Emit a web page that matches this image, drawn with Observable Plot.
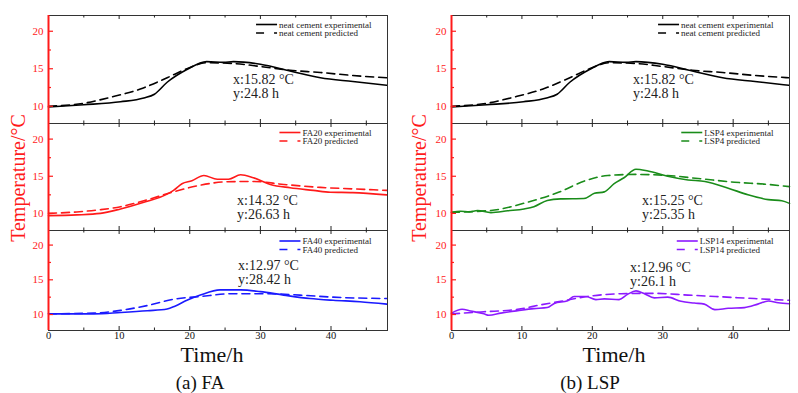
<!DOCTYPE html>
<html>
<head>
<meta charset="utf-8">
<script src="https://cdn.jsdelivr.net/npm/d3@7"></script>
<script src="https://cdn.jsdelivr.net/npm/@observablehq/plot@0.6"></script>
<style>
  html, body { margin: 0; padding: 0; background: #fff; }
  #chart { position: relative; width: 798px; height: 393px; overflow: hidden; background: #fff; font-family: "Liberation Serif", "DejaVu Serif", serif; }
  #chart .cell { position: absolute; }
  #overlay { position: absolute; left: 0; top: 0; pointer-events: none; }
</style>
</head>
<body>
<div id="chart"></div>
<script>
// ---------------- data (time h, temperature °C) ----------------
const xTicks = [0, 10, 20, 30, 40];
const xMinorTicks = [5, 15, 25, 35, 45];
const yTicks = [10, 15, 20];
const yMinorTicks = [12.5, 17.5];

const neatExp = [[0,9.9],[5,10.2],[10.2,10.6],[13.5,11.1],[15.0,11.6],[16.8,13.2],[19.6,14.9],[22.4,15.95],[24.8,15.85],[26.2,15.95],[30,15.6],[34.2,14.7],[38.5,13.8],[43.1,13.3],[47.9,12.8]];
const neatPred = [[0,10.0],[5,10.4],[8.8,11.2],[13,12.3],[16.8,13.8],[19.6,15.0],[22.4,15.8],[26.2,15.7],[30,15.3],[34.2,14.8],[38.5,14.5],[43.1,14.1],[47.9,13.8]];

const fa20Exp = [[0,9.7],[4,9.8],[7.35,10.0],[10.2,10.6],[13.5,11.5],[16.8,12.6],[17.7,13.1],[18.9,14.0],[20.3,14.4],[22.0,15.1],[23.9,14.6],[25.5,14.6],[27.2,15.2],[29.0,14.8],[31.4,13.9],[34.2,13.45],[37.5,13.1],[39.9,12.85],[43.1,12.8],[47.9,12.5]];
const fa20Pred = [[0,10.0],[4,10.2],[7.35,10.5],[10.2,10.9],[13.5,11.7],[17.7,12.9],[21.5,13.8],[25.2,14.25],[29,14.3],[33.3,13.9],[38.5,13.5],[43.1,13.3],[47.9,13.1]];

const fa40Exp = [[0,10.1],[6.4,10.1],[10.2,10.3],[14,10.55],[16.8,10.8],[17.9,11.2],[19.6,12.05],[21.5,12.8],[24.3,13.55],[27.2,13.55],[30,13.3],[33.3,12.8],[37.0,12.3],[40.3,12.05],[44.1,11.85],[47.9,11.5]];
const fa40Pred = [[0,10.1],[6.4,10.2],[10.2,10.6],[14,11.3],[17.7,12.2],[21.5,12.6],[26.2,13.0],[30.9,13.0],[35.6,12.8],[40.3,12.5],[47.9,12.3]];

const lsp4Exp = [[0,10.15],[1.3,10.3],[2.5,10.2],[3.7,10.4],[5.6,10.1],[8,10.35],[10.3,10.6],[11.7,10.9],[13.6,11.75],[15.5,11.95],[18.8,12.0],[20.3,12.7],[21.7,12.9],[23.1,14.0],[24.5,14.8],[26.2,15.95],[27.9,15.7],[30.7,15.0],[33.6,14.5],[36.0,14.3],[39.3,13.4],[42.1,12.5],[45,11.85],[46.9,11.7],[48,11.35]];
const lsp4Pred = [[0,10.15],[5.6,10.4],[10.8,11.5],[15.1,12.8],[19.3,14.5],[22.2,15.1],[26,15.25],[30.7,15.1],[35.5,14.65],[40.2,14.2],[45,13.9],[48,13.6]];

const lsp14Exp = [[0,10.2],[1.5,10.75],[2.7,10.5],[4.6,10.1],[5.3,9.9],[7.0,10.2],[9.4,10.55],[11.7,10.85],[13.6,11.0],[14.6,11.6],[16.5,12.0],[17.4,12.6],[19.1,12.6],[20.5,12.15],[21.7,12.25],[23.8,12.15],[25,12.9],[26.2,13.4],[27.4,13.0],[28.8,12.4],[30.7,12.5],[32.6,11.9],[34.5,11.65],[35.9,11.5],[37.4,10.7],[39.3,10.9],[41.6,11.0],[43.5,11.5],[45,11.95],[46.4,11.7],[48,11.55]];
const lsp14Pred = [[0,10.1],[4.6,10.4],[9.4,10.75],[12.7,11.4],[15.5,11.9],[19.3,12.6],[24.1,13.0],[28.8,13.05],[33.6,12.8],[38.3,12.55],[43,12.3],[48,12.05]];

const panelTitles = ["(a) FA", "(b) LSP"];
const axisTitleY = "Temperature/°C";
const axisTitleX = "Time/h";

const subplots = [
  {col: 0, row: 0, exp: neatExp, pred: neatPred, color: "#000000", names: ["neat cement experimental", "neat cement predicted"], note: ["x:15.82 °C", "y:24.8 h"]},
  {col: 0, row: 1, exp: fa20Exp, pred: fa20Pred, color: "#ff1a1a", names: ["FA20 experimental", "FA20 predicted"], note: ["x:14.32 °C", "y:26.63 h"]},
  {col: 0, row: 2, exp: fa40Exp, pred: fa40Pred, color: "#1a1aff", names: ["FA40 experimental", "FA40 predicted"], note: ["x:12.97 °C", "y:28.42 h"]},
  {col: 1, row: 0, exp: neatExp, pred: neatPred, color: "#000000", names: ["neat cement experimental", "neat cement predicted"], note: ["x:15.82 °C", "y:24.8 h"]},
  {col: 1, row: 1, exp: lsp4Exp, pred: lsp4Pred, color: "#1a8c1a", names: ["LSP4 experimental", "LSP4 predicted"], note: ["x:15.25 °C", "y:25.35 h"]},
  {col: 1, row: 2, exp: lsp14Exp, pred: lsp14Pred, color: "#8c1aff", names: ["LSP14 experimental", "LSP14 predicted"], note: ["x:12.96 °C", "y:26.1 h"]}
];

// ---------------- layout ----------------
const FONT = "Liberation Serif, DejaVu Serif, serif";
const colX = [[48, 387], [451, 789]];
const rowY = [[15, 123], [123, 230], [230, 330]];
const notePos = [
  [[233, 84], [237, 205], [238, 270]],
  [[633, 84], [642, 205], [630, 272]]
];
const Y0 = 7.7, Y1 = 22.1;
const ML = 40, MR = 8, MT = 6;

const chart = document.getElementById("chart");

subplots.forEach(s => {
  const [fx0, fx1] = colX[s.col];
  const [fy0, fy1] = rowY[s.row];
  const fw = fx1 - fx0, fh = fy1 - fy0;
  const bottom = s.row === 2;
  const MB = bottom ? 22 : 6;
  const tickLenY = 5 * 48 / fw;
  const px = (Y1 - Y0) / fh;
  const tx = d => d;
  const plot = Plot.plot({
    width: ML + fw + MR,
    height: MT + fh + MB,
    marginLeft: ML, marginRight: MR, marginTop: MT, marginBottom: MB,
    x: {domain: [0, 48], axis: null},
    y: {domain: [Y0, Y1], axis: null},
    style: {fontFamily: FONT, background: "transparent", overflow: "visible"},
    marks: [
      Plot.line(s.pred, {x: d => d[0], y: d => d[1], stroke: s.color, strokeWidth: 1.6, strokeDasharray: "8,5", curve: "monotone-x"}),
      Plot.line(s.exp, {x: d => d[0], y: d => d[1], stroke: s.color, strokeWidth: 1.6, curve: "monotone-x"}),
      Plot.frame({stroke: "#333", strokeWidth: 1}),
      // x ticks (inward, bottom and top)
      Plot.ruleX(xTicks, {x: tx, y1: () => Y0, y2: () => Y0 + 4 * px, stroke: "#222"}),
      Plot.ruleX(xMinorTicks, {x: tx, y1: () => Y0, y2: () => Y0 + 2.5 * px, stroke: "#222"}),
      Plot.ruleX(xTicks, {x: tx, y1: () => Y1, y2: () => Y1 - 4 * px, stroke: "#222"}),
      Plot.ruleX(xMinorTicks, {x: tx, y1: () => Y1, y2: () => Y1 - 2.5 * px, stroke: "#222"}),
      // red y axis
      Plot.ruleX([0], {x: tx, stroke: "#ff1a1a", strokeWidth: 2}),
      Plot.ruleY(yTicks, {y: tx, x1: () => 0, x2: () => tickLenY, stroke: "#ff1a1a", strokeWidth: 1.2}),
      Plot.ruleY(yMinorTicks, {y: tx, x1: () => 0, x2: () => tickLenY * 0.6, stroke: "#ff1a1a", strokeWidth: 1.2}),
      Plot.text(yTicks, {x: () => 0, y: tx, text: d => String(d), textAnchor: "end", dx: -5, fill: "#ff1a1a", fontSize: 11, fontFamily: FONT}),
      bottom ? Plot.text(xTicks, {x: tx, y: () => Y0, text: d => String(d), dy: 5, fill: "#111", fontSize: 10.5, fontFamily: FONT}) : null
    ]
  });
  const wrap = document.createElement("div");
  wrap.className = "cell";
  wrap.style.left = (fx0 - ML) + "px";
  wrap.style.top = (fy0 - MT) + "px";
  wrap.appendChild(plot);
  chart.appendChild(wrap);
});

// ---------------- overlay: titles, legends, notes ----------------
const svg = d3.select(chart).append("svg")
  .attr("id", "overlay").attr("width", 798).attr("height", 393)
  .attr("font-family", FONT);

[0, 1].forEach(c => {
  svg.append("text")
    .attr("transform", `translate(${c === 0 ? 25 : 426},178) rotate(-90)`)
    .attr("text-anchor", "middle").attr("fill", "#ff1a1a").attr("font-size", 20)
    .text(axisTitleY);
  svg.append("text").attr("x", c === 0 ? 212 : 614).attr("y", 362)
    .attr("text-anchor", "middle").attr("fill", "#111").attr("font-size", 22)
    .text(axisTitleX);
  svg.append("text").attr("x", c === 0 ? 200 : 590).attr("y", 389)
    .attr("text-anchor", "middle").attr("fill", "#111").attr("font-size", 19)
    .text(panelTitles[c]);
});

subplots.forEach(s => {
  const [fx0, fx1] = colX[s.col];
  const [fy0] = rowY[s.row];
  const g = svg.append("g");
  const rowsY = [0, 8.5];
  s.names.forEach((name, i) => {
    g.append("line").attr("x1", 0).attr("x2", 21).attr("y1", rowsY[i]).attr("y2", rowsY[i])
      .attr("stroke", s.color).attr("stroke-width", 1.6)
      .attr("stroke-dasharray", i === 1 ? "8,10,3" : null);
    g.append("text").attr("x", 23).attr("y", rowsY[i] + 3).attr("font-size", 9).attr("fill", "#222").text(name);
  });
  const w = g.node().getBBox().width;
  g.attr("transform", `translate(${fx1 - 15 - w},${fy0 + 9.5 + (s.row === 2 ? 1.5 : 0)})`);

  const [nx, ny] = notePos[s.col][s.row];
  s.note.forEach((t, i) => {
    svg.append("text").attr("x", nx).attr("y", ny + i * 14).attr("font-size", 14).attr("fill", "#222").text(t);
  });
});
</script>
</body>
</html>
